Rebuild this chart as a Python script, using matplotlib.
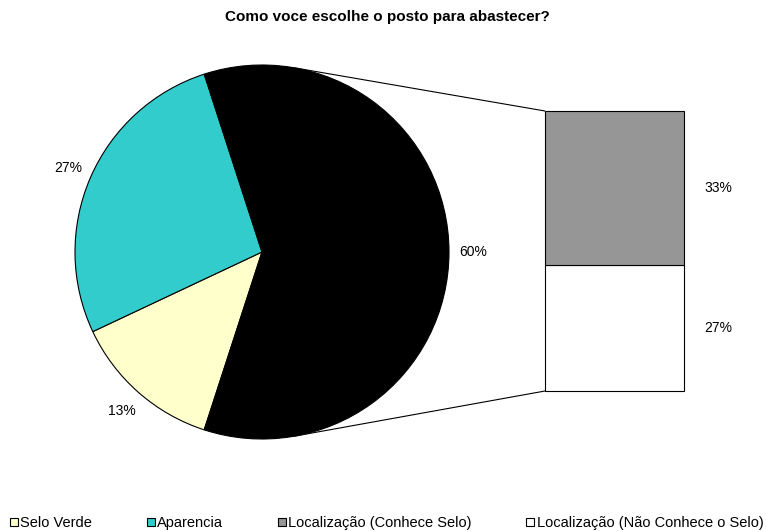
import matplotlib
matplotlib.use("Agg")
import matplotlib.pyplot as plt
import numpy as np
from matplotlib.lines import Line2D
from matplotlib.patches import ConnectionPatch

plt.rcParams["font.family"] = ["Liberation Sans", "DejaVu Sans"]
plt.rcParams["font.size"] = 10

title = 'Como voce escolhe o posto para abastecer?'

pie_labels = ['Selo Verde', 'Aparencia', 'Localização']
pie_values = [13, 27, 60]
pie_colors = ['#FFFFCC', '#33CCCC', '#000000']

bar_labels = ['Localização (Não Conhece o Selo)', 'Localização (Conhece Selo)']
bar_values = [27, 33]
bar_colors = ['#FFFFFF', '#969696']

legend_labels = ['Selo Verde', 'Aparencia', 'Localização (Conhece Selo)',
                 'Localização (Não Conhece o Selo)']
legend_colors = ['#FFFFCC', '#33CCCC', '#969696', '#FFFFFF']

W, H = 766, 531
fig = plt.figure(figsize=(W / 100, H / 100), dpi=100)

# pie on the left
ax_pie = fig.add_axes([75 / W, (H - 439) / H, 374 / W, 374 / H])
start = 180 * pie_values[2] / 100 + 360 * (pie_values[0] + pie_values[1]) / 100
wedges, _, autotexts = ax_pie.pie(
    pie_values, colors=pie_colors, startangle=start, counterclock=False,
    autopct='%1.0f%%', pctdistance=1.13,
    wedgeprops=dict(edgecolor='black', linewidth=0.8))
for t in autotexts:
    t.set_color('black')
    t.set_fontsize(10)
ax_pie.set_xlim(-1, 1)
ax_pie.set_ylim(-1, 1)
ax_pie.set_aspect('equal')
ax_pie.axis('off')

# stacked bar for the split slice
ax_bar = fig.add_axes([545 / W, (H - 391) / H, 139 / W, 280 / H])
bottom = 0
for v, c in zip(bar_values, bar_colors):
    ax_bar.bar(0, v, width=1, bottom=bottom, color=c, edgecolor='black',
               linewidth=0.8, clip_on=False)
    ax_bar.text(0.75, bottom + v / 2, f'{v}%', ha='center', va='center', fontsize=10)
    bottom += v
ax_bar.set_xlim(-0.5, 0.5)
ax_bar.set_ylim(0, sum(bar_values))
ax_bar.axis('off')

# connector lines
for ang, yb in [(80, sum(bar_values)), (-80, 0)]:
    a = np.deg2rad(ang)
    con = ConnectionPatch(xyA=(np.cos(a), np.sin(a)), coordsA=ax_pie.transData,
                          xyB=(-0.5, yb), coordsB=ax_bar.transData,
                          color='black', linewidth=0.8)
    fig.add_artist(con)

fig.text(387 / W, 1 - 17 / H, title, ha='center', va='center',
         fontsize=11, fontweight='bold')

handles = [Line2D([], [], marker='s', linestyle='none', markersize=6,
                  markerfacecolor=c, markeredgecolor='black', markeredgewidth=0.8)
           for c in legend_colors]
fig.legend(handles, legend_labels, loc='center left', ncol=4,
           bbox_to_anchor=(11 / W, 1 - 523 / H), frameon=False,
           handlelength=0.4, handletextpad=0.25, columnspacing=3.8,
           borderaxespad=0, borderpad=0, fontsize=10.5)

fig.savefig('out.png', dpi=100, facecolor='white')
